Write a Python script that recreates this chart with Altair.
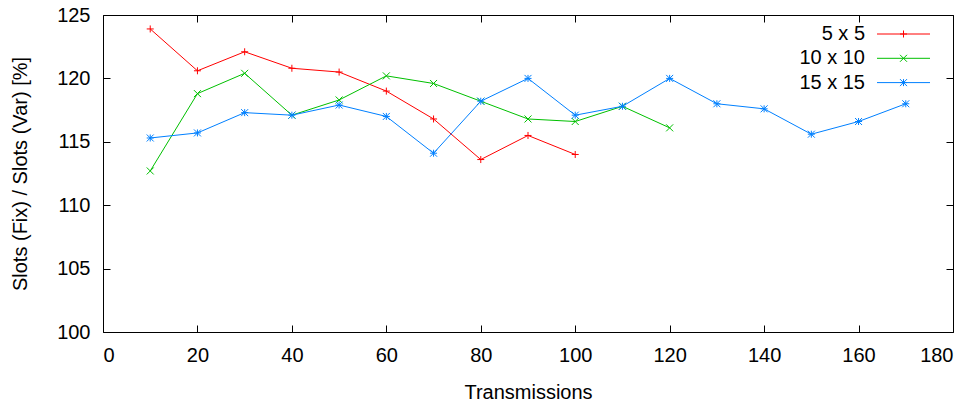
import altair as alt
import pandas as pd

names = ["5 x 5", "10 x 10", "15 x 15"]
colors = ["#ff0000", "#00c000", "#0080ff"]

x_5 = [10, 20, 30, 40, 50, 60, 70, 80, 90, 100]
y_5 = [123.9, 120.6, 122.1, 120.8, 120.5, 119.0, 116.8, 113.6, 115.5, 114.0]

x_10 = [10, 20, 30, 40, 50, 60, 70, 80, 90, 100, 110, 120]
y_10 = [112.7, 118.8, 120.4, 117.1, 118.3, 120.2, 119.6, 118.2, 116.8, 116.6, 117.8, 116.1]

x_15 = [10, 20, 30, 40, 50, 60, 70, 80, 90, 100, 110, 120, 130, 140, 150, 160, 170]
y_15 = [115.3, 115.7, 117.3, 117.1, 117.9, 117.0, 114.1, 118.2, 120.0, 117.1,
        117.8, 120.0, 118.0, 117.6, 115.6, 116.6, 118.0]

x_ticks = [0, 20, 40, 60, 80, 100, 120, 140, 160, 180]
y_ticks = [100, 105, 110, 115, 120, 125]

frames = []
for name, xs, ys in [(names[0], x_5, y_5), (names[1], x_10, y_10), (names[2], x_15, y_15)]:
    frames.append(pd.DataFrame({"series": name, "t": xs, "v": ys}))
df = pd.concat(frames, ignore_index=True)

PLUS = "M-1,0L1,0M0,-1L0,1"
CROSS = "M-1,-1L1,1M-1,1L1,-1"
STAR = "M-1,0L1,0M0,-1L0,1M-1,-1L1,1M-1,1L1,-1"
shapes = [PLUS, CROSS, STAR]

FONT = "Liberation Sans"
FS = 20
W, H = 850, 317

xscale = alt.Scale(domain=[0, 180], nice=False, zero=False)
yscale = alt.Scale(domain=[100, 125], nice=False, zero=False)
cscale = alt.Scale(domain=names, range=colors)
sscale = alt.Scale(domain=names, range=shapes)

x_axis = alt.Axis(values=x_ticks, format="d", orient="bottom", offset=-7, tickSize=7,
                  domain=False, grid=False, tickColor="black", labelColor="black",
                  labelFont=FONT, labelFontSize=FS, labelBaseline="alphabetic",
                  labelPadding=29, title="Transmissions", titleFont=FONT,
                  titleFontSize=FS, titleFontWeight="normal", titleColor="black",
                  titleX=W / 2, titleY=73, titleBaseline="alphabetic", titleAlign="center")
y_axis = alt.Axis(values=y_ticks, format="d", orient="left", offset=-7, tickSize=7,
                  domain=False, grid=False, tickColor="black", labelColor="black",
                  labelFont=FONT, labelFontSize=FS, labelPadding=13,
                  title="Slots (Fix) / Slots (Var) [%]", titleFont=FONT,
                  titleFontSize=FS, titleFontWeight="normal", titleColor="black",
                  titleX=-89.5, titleY=H / 2, titleAngle=270, titleBaseline="middle",
                  titleAlign="center")
x_top = alt.Axis(values=x_ticks, orient="top", offset=-7, tickSize=7, domain=False,
                 grid=False, labels=False, tickColor="black", title=None)
y_right = alt.Axis(values=y_ticks, orient="right", offset=-7, tickSize=7, domain=False,
                   grid=False, labels=False, tickColor="black", title=None)

base = alt.Chart(df)

lines = base.mark_line(strokeWidth=1).encode(
    x=alt.X("t:Q", scale=xscale, axis=x_axis),
    y=alt.Y("v:Q", scale=yscale, axis=y_axis),
    color=alt.Color("series:N", scale=cscale, legend=None),
    detail="series:N",
)

points = base.mark_point(filled=False, size=49, strokeWidth=1, opacity=1).encode(
    x=alt.X("t:Q", scale=xscale, axis=None),
    y=alt.Y("v:Q", scale=yscale, axis=None),
    color=alt.Color("series:N", scale=cscale, legend=None),
    shape=alt.Shape("series:N", scale=sscale, legend=None),
)

mirror = base.mark_point(opacity=0).encode(
    x=alt.X("t:Q", scale=xscale, axis=x_top),
    y=alt.Y("v:Q", scale=yscale, axis=y_right),
)

legend_layers = []
row0, step = 19, 24.3
for i, name in enumerate(names):
    yy = row0 + step * i
    ldf = pd.DataFrame({"series": [name]})
    lb = alt.Chart(ldf)
    legend_layers.append(
        lb.mark_text(align="right", baseline="middle", font=FONT, fontSize=FS, color="black").encode(
            x=alt.value(762), y=alt.value(yy), text="series:N")
    )
    legend_layers.append(
        lb.mark_rule(strokeWidth=1, color=colors[i]).encode(
            x=alt.value(774), x2=alt.value(827), y=alt.value(yy))
    )
    legend_layers.append(
        lb.mark_point(filled=False, size=49, strokeWidth=1, shape=shapes[i], color=colors[i], opacity=1).encode(
            x=alt.value(800.5), y=alt.value(yy))
    )

chart = alt.layer(lines, points, mirror, *legend_layers).resolve_axis(
    x="independent", y="independent"
).properties(
    width=W, height=H,
    autosize=alt.AutoSizeParams(type="none"),
    padding={"left": 95, "top": 7, "right": 14, "bottom": 71},
    background="white",
).configure_view(stroke="black", strokeWidth=1)

chart.save("out.html", embed_options={"renderer": "svg", "actions": False})
